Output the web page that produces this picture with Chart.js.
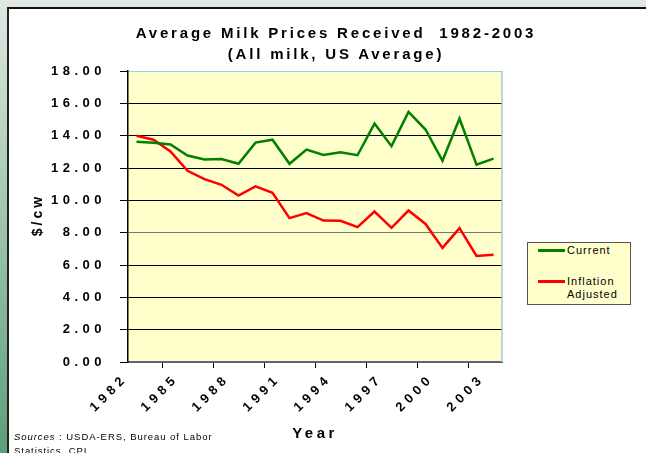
<!DOCTYPE html>
<html>
<head>
<meta charset="utf-8">
<script src="https://cdn.jsdelivr.net/npm/chart.js@4.4.0/dist/chart.umd.min.js"></script>
<style>
body{margin:0;width:646px;height:453px;overflow:hidden;background:#dfe9e2;font-family:"Liberation Sans",Arial,sans-serif;position:relative}
#strip{position:absolute;left:0;top:0;width:8px;height:453px;background:linear-gradient(#dfe9e2,#5c9e77)}
#panel{position:absolute;left:7px;top:7px;width:720px;height:480px;background:#fff;border-top:2px solid #111;border-left:2px solid #222}
canvas{position:absolute;left:0;top:0}
.title{position:absolute;left:86px;width:500px;text-align:center;white-space:nowrap;font-weight:bold;font-size:15px;line-height:21px;letter-spacing:2.8px;color:#000}
#ytitle{position:absolute;left:7px;top:205px;width:60px;text-align:center;font-weight:bold;font-size:14px;line-height:20px;letter-spacing:3px;transform:rotate(-90deg)}
#xtitle{position:absolute;left:265px;width:100px;top:423px;text-align:center;font-weight:bold;font-size:15px;line-height:20px;letter-spacing:3.5px}
#source{position:absolute;left:14px;top:430px;font-size:9.5px;line-height:14px;letter-spacing:0.95px;color:#000;white-space:nowrap}
#legend{position:absolute;left:527px;top:242px;width:102px;height:61px;border:1px solid #555;background:#ffffcc}
#legend .item{position:absolute;left:0;width:100px;height:30px}
#legend .swatch{position:absolute;left:10px;top:5px;width:27px;height:2.5px}
#legend .text{position:absolute;left:39px;top:0;width:62px;font-size:11px;line-height:13px;letter-spacing:1px}
</style>
</head>
<body>
<div id="strip"></div>
<div id="panel"></div>
<canvas id="chart" width="646" height="453"></canvas>
<div class="title" style="top:22px">Average Milk Prices Received&nbsp; 1982-2003</div>
<div class="title" style="top:43px">(All milk, US Average)</div>
<div id="ytitle">$/cw</div>
<div id="xtitle">Year</div>
<div id="source"><i>Sources</i> : USDA-ERS, Bureau of Labor<br>Statistics, CPI</div>
<div id="legend"></div>
<script>
// values, $ per hundredweight
var years = ['1982','1983','1984','1985','1986','1987','1988','1989','1990','1991','1992',
             '1993','1994','1995','1996','1997','1998','1999','2000','2001','2002','2003'];
var current = [13.62, 13.56, 13.45, 12.77, 12.53, 12.56, 12.26, 13.57, 13.75, 12.26, 13.14,
               12.81, 12.98, 12.79, 14.75, 13.35, 15.47, 14.38, 12.45, 15.06, 12.21, 12.58];
var inflationAdjusted = [13.99, 13.75, 13.02, 11.83, 11.31, 10.96, 10.30, 10.86, 10.46, 8.90, 9.21,
                         8.75, 8.73, 8.34, 9.31, 8.30, 9.37, 8.54, 7.06, 8.28, 6.56, 6.64];
var seriesNames = ['Current', 'Inflation Adjusted'];
var seriesColors = ['#008000', '#ff0000'];
var yTicks = [0, 2, 4, 6, 8, 10, 12, 14, 16, 18];

var plotBackground = {
    id: 'plotBackground',
    beforeDraw: function(chart){
        var ctx = chart.ctx, a = chart.chartArea;
        ctx.letterSpacing = '4.5px';
        ctx.save();
        ctx.fillStyle = '#ffffcc';
        ctx.fillRect(a.left, a.top, a.right - a.left, a.bottom - a.top);
        ctx.restore();
    },
    beforeDatasetsDraw: function(chart){
        var ctx = chart.ctx, a = chart.chartArea;
        ctx.save();
        ctx.strokeStyle = '#9ccbe6';
        ctx.lineWidth = 1.5;
        ctx.beginPath();
        ctx.moveTo(a.right, a.top);
        ctx.lineTo(a.right, a.bottom);
        ctx.stroke();
        ctx.restore();
    }
};

var chart = new Chart(document.getElementById('chart').getContext('2d'), {
    type: 'line',
    data: {
        labels: years,
        datasets: [current, inflationAdjusted].map(function(values, i){
            return {
                label: seriesNames[i],
                data: values,
                borderColor: seriesColors[i],
                backgroundColor: seriesColors[i],
                borderWidth: 2.5,
                pointRadius: 0,
                tension: 0
            };
        })
    },
    options: {
        responsive: false,
        animation: false,
        devicePixelRatio: 1,
        layout: { padding: { left: 0, top: 71, right: 144, bottom: 0 } },
        plugins: { legend: { display: false }, tooltip: { enabled: false } },
        scales: {
            x: {
                offset: true,
                grid: { offset: true, drawOnChartArea: false, color: '#000', tickLength: 6 },
                border: { color: '#5b6770', width: 2 },
                ticks: {
                    autoSkip: false,
                    minRotation: 45,
                    maxRotation: 45,
                    labelOffset: -11,
                    padding: 3,
                    color: '#000',
                    font: { family: 'Liberation Sans', weight: 'bold', size: 13 },
                    callback: function(v, i){ return i % 3 === 0 ? years[i] : null; }
                },
                afterFit: function(scale){ scale.height = 91; }
            },
            y: {
                min: 0,
                max: 18,
                afterBuildTicks: function(scale){
                    scale.ticks = yTicks.map(function(v){ return { value: v }; });
                },
                grid: {
                    tickLength: 8,
                    tickColor: '#000',
                    color: function(c){
                        if (c.tick && c.tick.value === 18) return '#9ccbe6';
                        if (c.tick && c.tick.value === 8) return '#777';
                        return '#000';
                    }
                },
                border: { color: '#000', width: 1.5 },
                ticks: {
                    padding: 14,
                    color: '#000',
                    font: { family: 'Liberation Sans', weight: 'bold', size: 13 },
                    callback: function(v){ return v.toFixed(2); }
                },
                afterFit: function(scale){ scale.width = 128; }
            }
        }
    },
    plugins: [plotBackground]
});

// legend box, built from the same series
var legend = document.getElementById('legend');
seriesNames.forEach(function(name, i){
    var item = document.createElement('div');
    item.className = 'item';
    item.style.top = (i === 0 ? 1 : 32) + 'px';
    item.innerHTML = '<div class="swatch" style="background:' + seriesColors[i] + '"></div>' +
                     '<div class="text">' + name + '</div>';
    legend.appendChild(item);
});
</script>
</body>
</html>
